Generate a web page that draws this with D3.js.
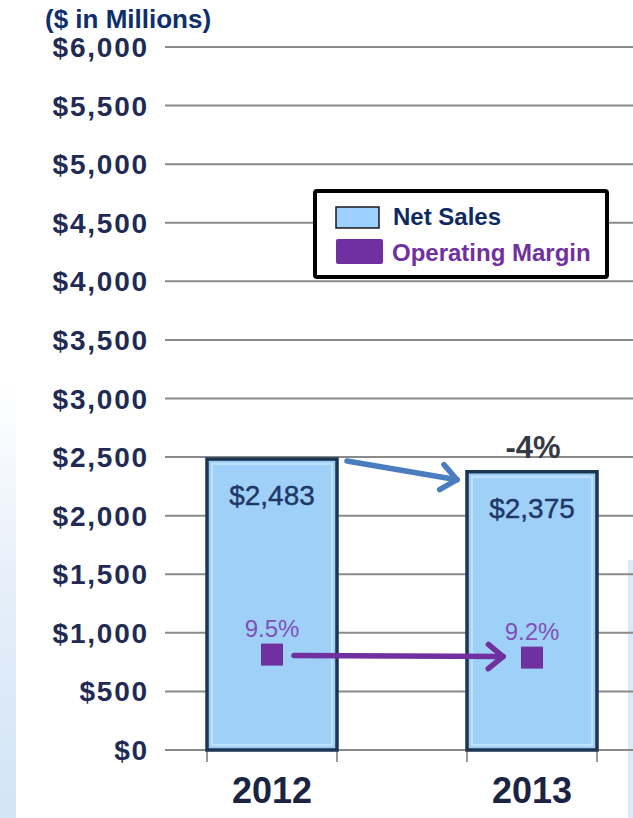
<!DOCTYPE html>
<html><head><meta charset="utf-8">
<script src="https://cdn.jsdelivr.net/npm/d3@7"></script>
<style>body{margin:0;background:#fff}svg{display:block}text{font-family:"Liberation Sans",Arial,sans-serif}</style>
</head><body>
<script>
const years = ["2012","2013"];
const netSales = [2483, 2375];
const netSalesLabels = ["$2,483","$2,375"];
const opMargin = [9.5, 9.2];
const opMarginLabels = ["9.5%","9.2%"];
const yTicks = [0,500,1000,1500,2000,2500,3000,3500,4000,4500,5000,5500,6000];
const changeLabel = "-4%";
const legendItems = ["Net Sales","Operating Margin"];

const W=633,H=818;
const svg=d3.select("body").append("svg").attr("width",W).attr("height",H);
const defs=svg.append("defs");
const lg=defs.append("linearGradient").attr("id","lbg").attr("x1",0).attr("y1",0).attr("x2",0).attr("y2",1);
lg.append("stop").attr("offset","0").attr("stop-color","#ffffff");
lg.append("stop").attr("offset","0.5").attr("stop-color","#e4eef9");
lg.append("stop").attr("offset","1").attr("stop-color","#d2e4f6");
svg.append("rect").attr("x",0).attr("y",380).attr("width",16).attr("height",438).attr("fill","url(#lbg)");
svg.append("rect").attr("x",628).attr("y",560).attr("width",5).attr("height",258).attr("fill","#dbe9f8");

const y=d3.scaleLinear().domain([0,6000]).range([750,47]);
const y2=d3.scaleLinear().domain([0,70]).range([750,47]);
const x=d3.scaleBand().domain(years).range([142,662]).paddingInner(0.5).paddingOuter(0.25);
const bw=x.bandwidth();

// gridlines
svg.append("g").selectAll("line").data(yTicks).join("line")
 .attr("x1",165).attr("x2",633).attr("y1",d=>y(d)).attr("y2",d=>y(d))
 .attr("stroke","#8a8a8a").attr("stroke-width",2);

// y tick labels
svg.append("g").selectAll("text").data(yTicks).join("text")
 .attr("x",149).attr("y",d=>y(d)+10).attr("text-anchor","end")
 .attr("font-size",28).attr("font-weight","bold").attr("fill","#1f2b55")
 .attr("letter-spacing","1.8px")
 .text(d=>"$"+d3.format(",")(d));

svg.append("text").attr("x",45).attr("y",28).attr("font-size",26).attr("font-weight","bold")
 .attr("fill","#0e2f6d").text("($ in Millions)");

// x ticks at bar edges
const edges=[];years.forEach(d=>{edges.push(x(d));edges.push(x(d)+bw);});
svg.append("g").selectAll("line").data(edges).join("line")
 .attr("x1",d=>d).attr("x2",d=>d).attr("y1",750).attr("y2",762)
 .attr("stroke","#777").attr("stroke-width",1.5);

// bars
const bars=svg.append("g");
years.forEach((yr,i)=>{
  const bx=x(yr),by=y(netSales[i]),bh=y(0)-y(netSales[i]);
  bars.append("rect").attr("x",bx).attr("y",by).attr("width",bw).attr("height",bh)
   .attr("fill","#9fd0f8").attr("stroke","#1c3550").attr("stroke-width",3.5);
  bars.append("rect").attr("x",bx+5).attr("y",by+5).attr("width",bw-10).attr("height",bh-10)
   .attr("fill","none").attr("stroke","#c8e6fd").attr("stroke-width",2).attr("opacity",0.8);
  bars.append("text").attr("x",bx+bw/2).attr("y",by+46).attr("text-anchor","middle")
   .attr("font-size",28).attr("fill","#1f3766").attr("stroke","#1f3766").attr("stroke-width",0.4)
   .text(netSalesLabels[i]);
  bars.append("text").attr("x",bx+bw/2).attr("y",803).attr("text-anchor","middle")
   .attr("font-size",36).attr("font-weight","bold").attr("fill","#1a2442").text(yr);
});

svg.append("text").attr("x",x("2013")+bw/2+1).attr("y",y(netSales[1])-14).attr("text-anchor","middle")
 .attr("font-size",31).attr("font-weight","bold").attr("fill","#333a45").text(changeLabel);

// arrows
function arrow(x1,y1,x2,y2,col,w,hs){
  const g=svg.append("g");
  g.append("line").attr("x1",x1).attr("y1",y1).attr("x2",x2).attr("y2",y2)
   .attr("stroke",col).attr("stroke-width",w).attr("stroke-linecap","round");
  const a=Math.atan2(y2-y1,x2-x1);
  [Math.PI*0.78,-Math.PI*0.78].forEach(o=>{
    g.append("line").attr("x1",x2).attr("y1",y2)
     .attr("x2",x2+hs*Math.cos(a+o)).attr("y2",y2+hs*Math.sin(a+o))
     .attr("stroke",col).attr("stroke-width",w).attr("stroke-linecap","round");
  });
}
arrow(x("2012")+bw+10,y(netSales[0])+2,x("2013")-10,y(netSales[1])+8,"#4a7cc0",5.5,20);

// operating margin markers
const cx=years.map(d=>x(d)+bw/2);
arrow(cx[0]+22,y2(opMargin[0])+1,cx[1]-29,y2(opMargin[1])-1,"#7030a0",5.5,19);
years.forEach((yr,i)=>{
  svg.append("rect").attr("x",cx[i]-11).attr("y",y2(opMargin[i])-11).attr("width",22).attr("height",22)
   .attr("fill","#7030a0");
  svg.append("text").attr("x",cx[i]).attr("y",y2(opMargin[i])-18).attr("text-anchor","middle")
   .attr("font-size",24).attr("fill","#8050b8").text(opMarginLabels[i]);
});

// legend
const lgd=svg.append("g");
lgd.append("rect").attr("x",315).attr("y",191).attr("width",292).attr("height",86)
 .attr("fill","#fff").attr("stroke","#000").attr("stroke-width",4).attr("rx",2);
lgd.append("rect").attr("x",336).attr("y",207).attr("width",43).attr("height",21)
 .attr("fill","#9dcfff").attr("stroke","#1a1a1a").attr("stroke-width",1.5);
lgd.append("rect").attr("x",336).attr("y",239).attr("width",47).attr("height",25).attr("rx",2)
 .attr("fill","#7030a0");
lgd.append("text").attr("x",393).attr("y",225).attr("font-size",24).attr("font-weight","bold")
 .attr("fill","#0f2a62").text(legendItems[0]);
lgd.append("text").attr("x",392).attr("y",261).attr("font-size",24).attr("font-weight","bold")
 .attr("fill","#7030a0").text(legendItems[1]);
</script>
</body></html>
